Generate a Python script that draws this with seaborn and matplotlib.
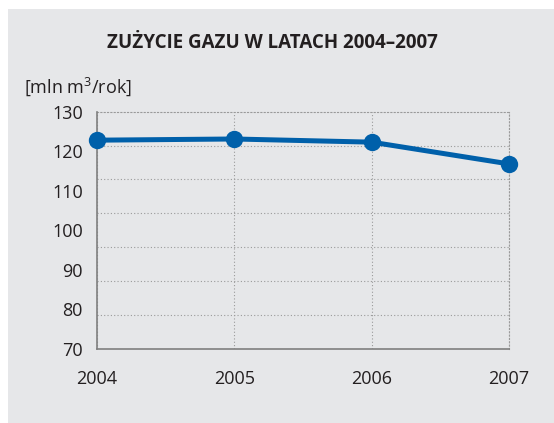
import numpy as np
import pandas as pd
import matplotlib.pyplot as plt
import matplotlib.patches as mpatches
from matplotlib.ticker import FixedLocator
import seaborn as sns

years = [2004, 2005, 2006, 2007]
usage = [122.8, 123.1, 122.3, 116.8]
y_ticks = [70, 80, 90, 100, 110, 120, 130]

title = 'ZUŻYCIE GAZU W LATACH 2004–2007'
unit_label = '[mln m$^3$/rok]'

df = pd.DataFrame({'rok': years, 'zuzycie': usage})

sns.set_style('white')
plt.rcParams['font.family'] = ['Open Sans', 'DejaVu Sans']
plt.rcParams['mathtext.fontset'] = 'custom'
plt.rcParams['mathtext.rm'] = 'Open Sans'

text_color = '#231f20'
panel_color = '#e6e7e9'
line_color = '#0060aa'
grid_color = '#9a9a9a'

fig = plt.figure(figsize=(5.54, 4.23), dpi=100, facecolor='white')
fig.patches.append(mpatches.Rectangle((8 / 554, 0), 1, 1 - 9 / 423,
                                      transform=fig.transFigure,
                                      facecolor=panel_color, edgecolor='none',
                                      zorder=-10))

ax = fig.add_axes([97 / 554, 1 - 349 / 423, 412 / 554, (349 - 111.7) / 423])
ax.set_facecolor('none')

sns.lineplot(data=df, x='rok', y='zuzycie', ax=ax, color=line_color,
             linewidth=3.6, marker='o', markersize=12.5,
             markeredgewidth=0, clip_on=False, zorder=5)

ax.set_xlim(2004, 2007)
ax.set_ylim(70, 130)
ax.set_xticks(years)
ax.set_xticklabels([str(y) for y in years])
ax.set_yticks(y_ticks)
ax.yaxis.set_minor_locator(FixedLocator(np.linspace(70, 130, 8)))

ax.grid(False)
ax.grid(True, which='minor', axis='y', linestyle=(0, (1, 2)),
        color=grid_color, linewidth=0.8)
ax.grid(True, which='major', axis='x', linestyle=(0, (1, 2)),
        color=grid_color, linewidth=0.8)

for side in ['top', 'right']:
    ax.spines[side].set_linestyle((0, (1, 2)))
    ax.spines[side].set_color(grid_color)
    ax.spines[side].set_linewidth(0.8)
for side in ['left', 'bottom']:
    ax.spines[side].set_color('#7f7f7f')
    ax.spines[side].set_linewidth(1.2)
    ax.spines[side].set_zorder(3)

ax.tick_params(axis='y', which='major', direction='inout', length=8.6,
               width=1, color='#7f7f7f', pad=6, labelsize=13,
               labelcolor=text_color)
ax.tick_params(axis='y', which='minor', length=0)
ax.tick_params(axis='x', length=0, pad=15, labelsize=13,
               labelcolor=text_color)
ax.set_xlabel('')
ax.set_ylabel('')

fig.text(272 / 554, 1 - 43 / 423, title, ha='center', va='center',
         fontsize=13.5, fontweight='bold', color=text_color)
fig.text(24 / 554, 1 - 87 / 423, unit_label, ha='left', va='center',
         fontsize=13, color=text_color)

fig.savefig('out.png', dpi=100, facecolor='white')
